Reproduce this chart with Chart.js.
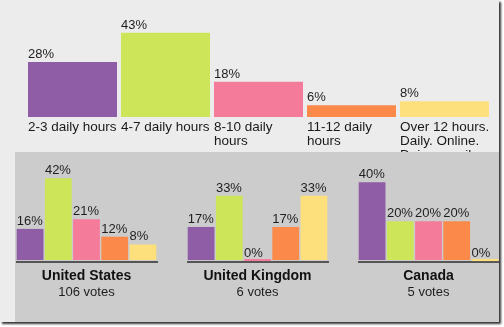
<!DOCTYPE html>
<html>
<head>
<meta charset="utf-8">
<title>Daily hours online</title>
<script src="https://cdn.jsdelivr.net/npm/chart.js@4/dist/chart.umd.min.js"></script>
<style>
  html, body { margin: 0; padding: 0; background: #ffffff; }
  #frame {
    position: absolute; left: 0; top: 0; width: 499px; height: 322px;
    background: #ececec;
    box-shadow: 2px 2px 2px rgba(0, 0, 0, 0.8);
    overflow: hidden;
  }
  #panel {
    position: absolute; left: 15px; top: 152px; width: 484px; height: 170px;
    background: #cccccc;
  }
  canvas { position: absolute; }
</style>
</head>
<body>
<div id="frame">
  <canvas id="overall" width="499" height="152" style="left:0;top:0"></canvas>
  <div id="panel"></div>
  <canvas id="us" width="160" height="170" style="left:16px;top:152px"></canvas>
  <canvas id="uk" width="160" height="170" style="left:187px;top:152px"></canvas>
  <canvas id="ca" width="141" height="170" style="left:358px;top:152px"></canvas>
</div>
<script>
// Answer options (multi-line where the label wraps)
const hourLabels = [
  "2-3 daily hours",
  "4-7 daily hours",
  ["8-10 daily", "hours"],
  ["11-12 daily", "hours"],
  ["Over 12 hours.", "Daily. Online.", "Doing email."]
];
// Share of all votes, percent
const overallShare = [28, 43, 18, 6, 8];

// Per-country breakdown
const countryNames = ["United States", "United Kingdom", "Canada"];
const countryVotes = [106, 6, 5];
const usShare = [16, 42, 21, 12, 8];
const ukShare = [17, 33, 0, 17, 33];
const caShare = [40, 20, 20, 20, 0];

const barColors = ["#8f5da6", "#cde559", "#f57b9b", "#fb8a4a", "#fde07c"];
const FONT = "'Liberation Sans', Arial, sans-serif";

// Percent label written just above the left edge of each bar
const valueLabels = {
  id: "valueLabels",
  afterDatasetsDraw(chart, args, opts) {
    const ctx = chart.ctx;
    const meta = chart.getDatasetMeta(0);
    const values = chart.data.datasets[0].data;
    ctx.save();
    ctx.font = "13px " + FONT;
    ctx.fillStyle = "#1e1e1e";
    ctx.textAlign = "left";
    ctx.textBaseline = "alphabetic";
    meta.data.forEach((bar, i) => {
      const left = bar.x - bar.width / 2;
      ctx.fillText(values[i] + "%", left, bar.y - opts.gap);
    });
    ctx.restore();
  }
};

Chart.defaults.font.family = FONT;

new Chart(document.getElementById("overall"), {
  type: "bar",
  data: {
    labels: hourLabels,
    datasets: [{
      data: overallShare,
      backgroundColor: barColors,
      borderWidth: 0,
      categoryPercentage: 1,
      barPercentage: 0.957
    }]
  },
  options: {
    responsive: false,
    animation: false,
    devicePixelRatio: 1,
    layout: { padding: { top: 19, left: 26, right: 8, bottom: 0 } },
    scales: {
      x: {
        grid: { display: false, drawTicks: false },
        border: { display: false },
        ticks: {
          align: "start",
          labelOffset: -44.5,
          maxRotation: 0,
          minRotation: 0,
          autoSkip: false,
          padding: 3,
          color: "#1a1a1a",
          font: { size: 13.5, lineHeight: "14px" }
        },
        afterFit(scale) {
          scale.height = 35;
          scale.paddingLeft = 0;
          scale.paddingRight = 0;
        }
      },
      y: { display: false, min: 0, max: 50 }
    },
    plugins: {
      legend: { display: false },
      tooltip: { enabled: false },
      valueLabels: { gap: 4 }
    }
  },
  plugins: [valueLabels]
});

function countryChart(id, name, votes, values, rightPad) {
  new Chart(document.getElementById(id), {
    type: "bar",
    data: {
      labels: hourLabels,
      datasets: [{
        data: values,
        backgroundColor: barColors,
        borderWidth: 0,
        categoryPercentage: 1,
        barPercentage: 0.95,
        minBarLength: 2
      }]
    },
    options: {
      responsive: false,
      animation: false,
      devicePixelRatio: 1,
      layout: { padding: { top: 1, left: 0, right: rightPad, bottom: 21.7 } },
      scales: {
        x: {
          display: true,
          grid: { display: false, drawTicks: false },
          ticks: { display: false },
          border: { display: true, color: "#555555", width: 2 }
        },
        y: { display: false, min: -1, max: 55 }
      },
      plugins: {
        legend: { display: false },
        tooltip: { enabled: false },
        title: {
          display: true,
          text: name,
          position: "bottom",
          weight: 1000,
          color: "#111111",
          font: { size: 14, weight: "bold" },
          padding: { top: 5.6, bottom: 0 }
        },
        subtitle: {
          display: true,
          text: votes + " votes",
          position: "bottom",
          color: "#1e1e1e",
          font: { size: 13, weight: "normal" },
          padding: { top: 0.3, bottom: 0 }
        },
        valueLabels: { gap: 4 }
      }
    },
    plugins: [valueLabels]
  });
}

countryChart("us", countryNames[0], countryVotes[0], usShare, 19);
countryChart("uk", countryNames[1], countryVotes[1], ukShare, 19);
countryChart("ca", countryNames[2], countryVotes[2], caShare, 0);
</script>
</body>
</html>
